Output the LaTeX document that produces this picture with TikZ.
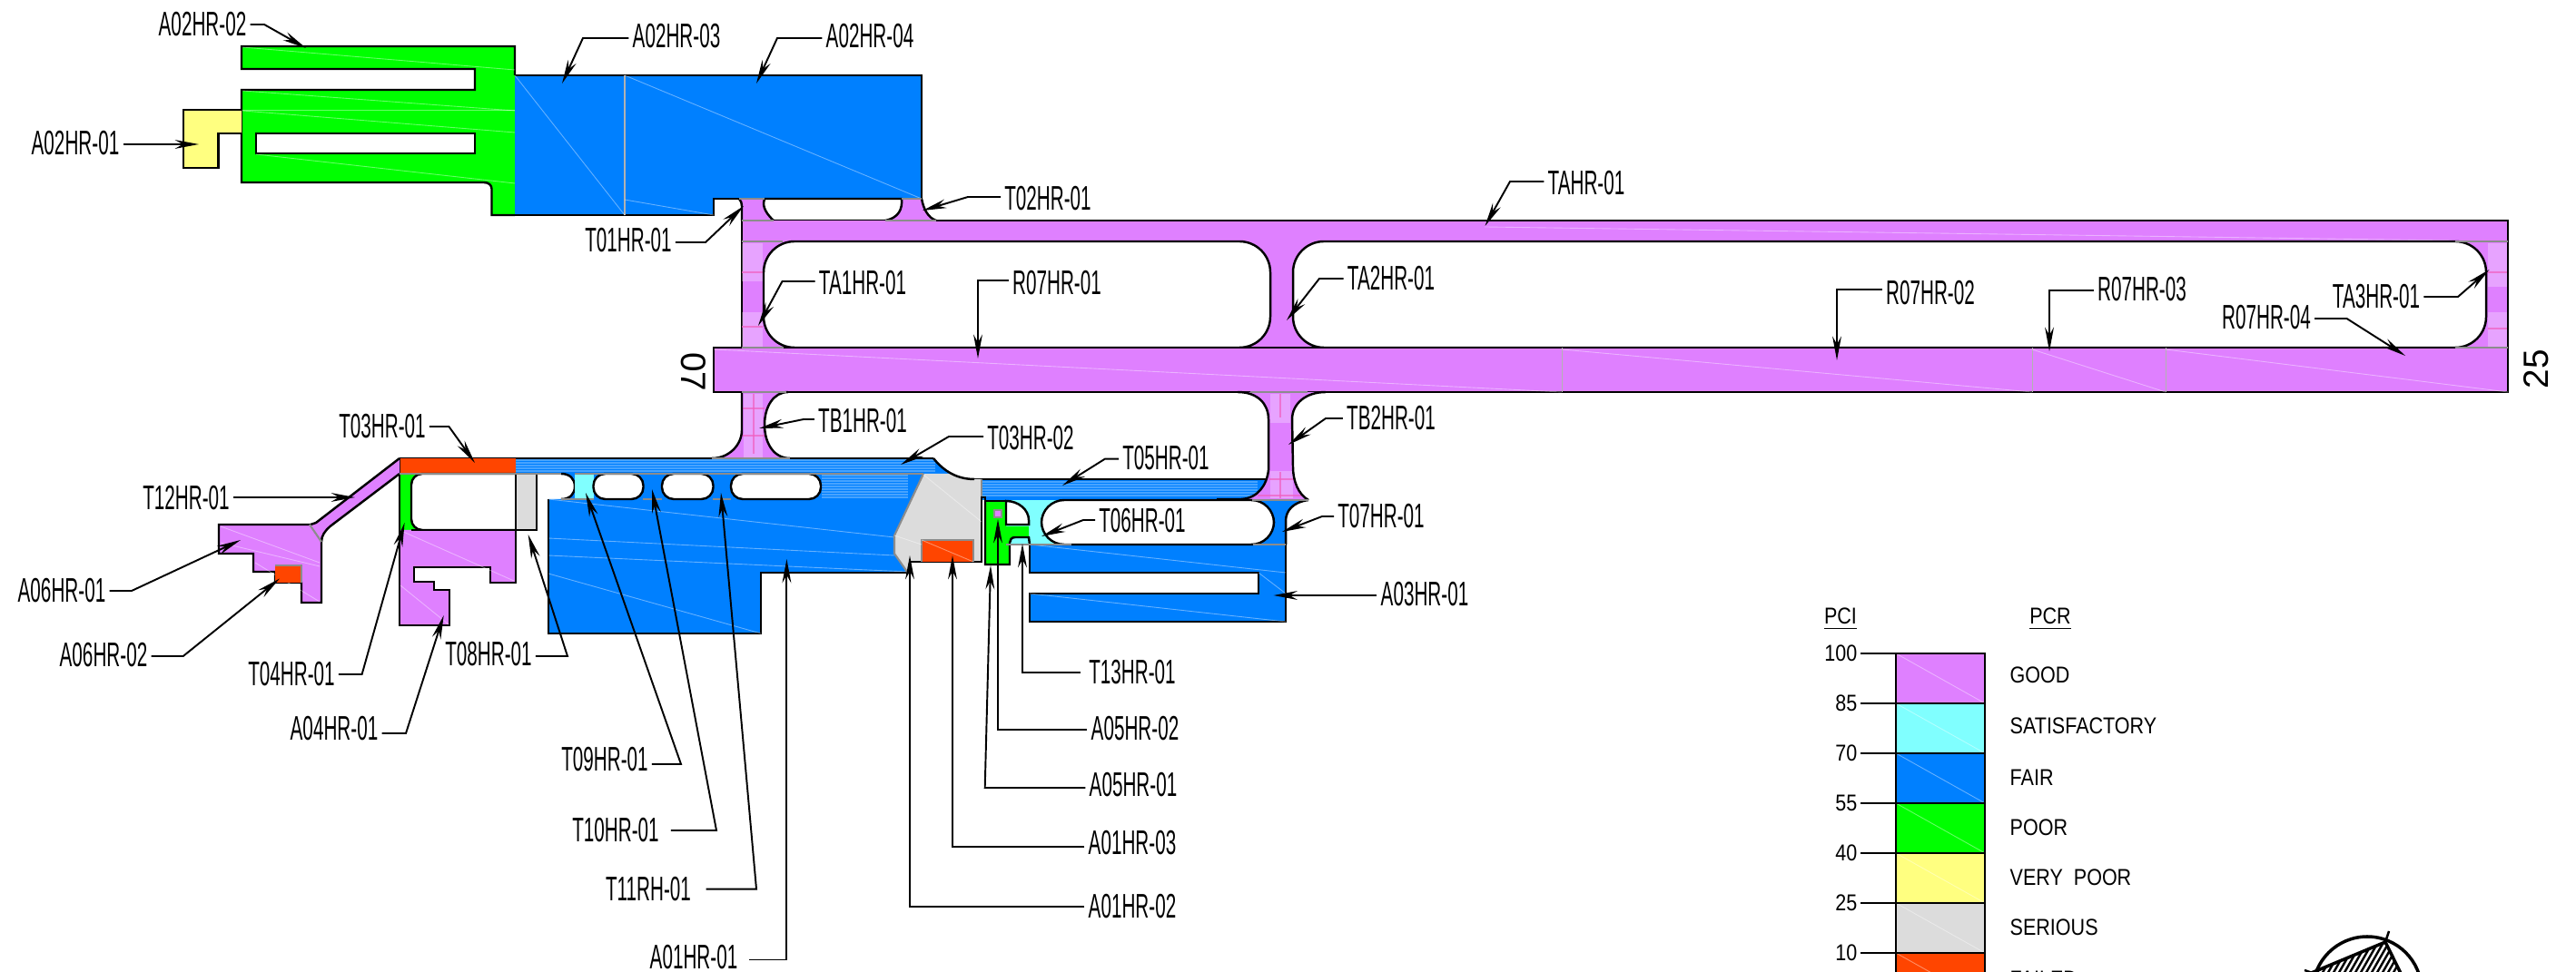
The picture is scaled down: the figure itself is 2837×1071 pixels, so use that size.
\documentclass[tikz,border=0pt]{standalone}
\usepackage{fontspec}
\setmainfont{Liberation Sans}
\newfontfamily\condfont[FakeStretch=0.55]{Liberation Sans}
\newfontfamily\legendfont[FakeStretch=0.85]{Liberation Sans}
\usetikzlibrary{arrows.meta}

\definecolor{pcigood}{HTML}{DF80FF}
\definecolor{pcisat}{HTML}{80FFFF}
\definecolor{pcifair}{HTML}{0080FF}
\definecolor{pcipoor}{HTML}{00FF00}
\definecolor{pcivery}{HTML}{FFFF80}
\definecolor{pciser}{HTML}{DCDCDC}
\definecolor{pcifail}{HTML}{FF4500}
\definecolor{pcigrid}{HTML}{F060C0}

\begin{document}
\begin{tikzpicture}[
	x=0.01cm, y=-0.01cm,
	edge/.style={draw=black, line width=0.7pt},
	joint/.style={draw=black!45, line width=0.6pt},
	slab/.style={draw=black!30, line width=0.3pt},
	seam/.style={draw=white, opacity=0.4, line width=0.25pt},
	streak/.style={draw=white, opacity=0.28, line width=0.3pt},
	grid line/.style={draw=pcigrid, opacity=0.7, line width=0.35pt},
	hole/.style={fill=white, draw=black, line width=0.7pt},
	sect/.style={font=\condfont\fontsize{10.7}{12}\selectfont, inner sep=1pt},
	rwy/.style={font=\fontsize{11}{12}\selectfont, inner sep=0pt},
	pci/.style={font=\legendfont\fontsize{7.2}{9}\selectfont, inner sep=0pt},
	leader/.style={draw=black, line width=0.55pt, -{Stealth[length=7.5pt, width=2.8pt]}}
]
\useasboundingbox (0,0) rectangle (2837,1071);
\clip (0,0) rectangle (2837,1071);

% apron A02
\fill[pcipoor] (266,51) -- (567,51) -- (567,237) -- (541.5,237) -- (541.5,208) .. controls (541.5,204) and (538,201) .. (533,201) -- (266,201) -- (266,99) -- (523,99) -- (523,76) -- (266,76) -- cycle;
\draw[edge] (567,83) -- (567,51) -- (266,51) -- (266,76) -- (523,76) -- (523,99) -- (266,99) -- (266,201) -- (533,201) .. controls (538,201) and (541.5,204) .. (541.5,208) -- (541.5,237) -- (567,237);
\draw[hole] (282,147) rectangle (523,169);
\fill[pcivery] (202,121) -- (266,121) -- (266,147) -- (240.6,147) -- (240.6,185) -- (202,185) -- cycle;
\draw[edge] (266,121) -- (202,121) -- (202,185) -- (240.6,185) -- (240.6,147) -- (266,147);
\fill[pcifair] (567,83) -- (1015,83) -- (1015,219) -- (786,219) -- (786,237) -- (567,237) -- cycle;
\draw[edge] (567,83) -- (1015,83) -- (1015,219) -- (786,219) -- (786,237) -- (567,237);
\draw[slab] (688,83) -- (688,237);
\draw[seam] (267,52) -- (567,77);
\draw[seam] (267,100) -- (567,122);
\draw[seam] (267,121) -- (567,121);
\draw[seam] (267,122) -- (567,146);
\draw[seam] (282,170) -- (567,202);
\draw[seam] (567,83) -- (688,237);
\draw[seam] (688,83) -- (1015,219);
\draw[seam] (688,220) -- (786,237);

% taxiway A and stubs
\fill[pcigood] (814,219) -- (842,219) .. controls (840,224) and (840,232) .. (852,243) -- (817,243) -- (817,227) -- cycle;
\fill[pcigood] (993,219) -- (1015,219) .. controls (1017,230) and (1022,240) .. (1031,243) -- (975,243) .. controls (990,240) and (994,230) .. (993,219) -- cycle;
\draw[edge] (814,219) .. controls (816,221) and (817,224) .. (817,227) -- (817,243);
\draw[edge] (842,219) .. controls (840,224) and (840,232) .. (852,243) -- (975,243) .. controls (990,240) and (994,230) .. (993,219) -- (842,219);
\draw[edge] (1015,219) .. controls (1017,230) and (1022,240) .. (1031,243);
\fill[pcigood] (817,243) rectangle (2762,383);
\draw[edge] (1031,243) -- (2762,243) -- (2762,432);
\draw[edge] (817,243) -- (817,383);
\draw[seam] (1635,250) -- (2700,265);
\foreach \xa/\xb/\ya/\yb in {817/840/268/310, 817/840/345/381, 2740/2761/268/315, 2740/2761/345/381} {
	\foreach \yy in {\ya,...,\yb} {
		\ifodd\yy \draw[streak] (\xa,\yy) -- (\xb,\yy); \fi
	}
}
\draw[grid line] (817,300) -- (840,300);
\draw[grid line] (817,360) -- (840,360);
\draw[grid line] (2740,300) -- (2761,300);
\draw[grid line] (2740,362) -- (2761,362);
\draw[hole, rounded corners=0.34cm] (841,266) rectangle (1399,383);
\draw[hole, rounded corners=0.34cm] (1424,266) rectangle (2738,383);
\fill[pcigood] (786,383) rectangle (2762,432);
\draw[edge] (786,383) rectangle (2762,432);
\draw[slab] (1720,383) -- (1720,432);
\draw[slab] (2238,383) -- (2238,432);
\draw[slab] (2385,383) -- (2385,432);
\draw[seam] (786,385) -- (1720,432);
\draw[seam] (1720,385) -- (2238,432);
\draw[seam] (2238,385) -- (2385,432);
\draw[seam] (2385,385) -- (2762,432);

% taxiway B stubs
\fill[pcigood] (817,432) -- (817,474) .. controls (817,490) and (803,505) .. (784,505) -- (870,505) .. controls (852,505) and (842,488) .. (842,468) .. controls (842,448) and (852,432) .. (868,432) -- cycle;
\foreach \yy in {435,437,...,503} {
	\draw[streak] (819,\yy) -- (840,\yy);
}
\draw[grid line] (830,434) -- (830,500);
\draw[grid line] (817,450) -- (842,450);
\draw[grid line] (817,480) -- (842,480);
\draw[edge] (817,432) -- (817,474) .. controls (817,490) and (803,505) .. (784,505);
\draw[edge] (868,432) .. controls (852,432) and (842,448) .. (842,468) .. controls (842,488) and (852,505) .. (870,505);

% lower pavement
\fill[pcifair] (568,505) -- (1028,505) .. controls (1040,520) and (1055,528) .. (1073,528) -- (1400,528) -- (1400,551) -- (1081,551) -- (1081,619) -- (1003,619) -- (999,631) -- (838,631) -- (838,698) -- (604,698) -- (604,550) -- (618,550) .. controls (628,550) and (633,544) .. (633,536) .. controls (633,528) and (628,522) .. (618,522) -- (568,522) -- cycle;
\foreach \yy in {507,510,...,520} {
	\draw[streak] (568,\yy) -- (1030,\yy);
}
\foreach \yy in {524,527,...,548} {
	\draw[streak] (905,\yy) -- (1000,\yy);
}
\foreach \yy in {531,534,...,548} {
	\draw[streak] (1082,\yy) -- (1385,\yy);
}
\draw[edge] (440,505) -- (784,505);
\draw[edge] (870,505) -- (1028,505);
\draw[edge] (1073,528) -- (1397,528);
\draw[edge] (618,550) .. controls (628,550) and (633,544) .. (633,536) .. controls (633,528) and (628,522) .. (618,522);
\draw[edge] (604,550) -- (604,698) -- (838,698) -- (838,631) -- (999,631);
\draw[seam] (604,550) -- (985,592);
\draw[seam] (604,593) -- (985,612);
\draw[seam] (604,612) -- (1000,630);
\draw[seam] (604,632) -- (838,698);

% taxiway B2 with its flare
\fill[pcigood] (1363,432) .. controls (1385,432) and (1397,445) .. (1397,462) -- (1397,518) .. controls (1395,535) and (1385,549) .. (1367,550) -- (1441,551) .. controls (1430,545) and (1424,530) .. (1424,515) -- (1423,462) .. controls (1423,445) and (1438,432) .. (1460,432) -- cycle;
\foreach \yy in {435,437,...,465} {
	\draw[streak] (1399,\yy) -- (1421,\yy);
}
\foreach \yy in {520,522,...,549} {
	\draw[streak] (1399,\yy) -- (1424,\yy);
}
\draw[grid line] (1410,434) -- (1410,460);
\draw[grid line] (1410,520) -- (1410,549);
\draw[grid line] (1385,546) -- (1436,546);
\draw[grid line] (1398,528) -- (1425,528);
\draw[edge] (1460,432) .. controls (1438,432) and (1423,445) .. (1423,462) -- (1424,515) .. controls (1424,530) and (1430,545) .. (1441,551);
\draw[edge] (1363,432) .. controls (1385,432) and (1397,445) .. (1397,462) -- (1397,518) .. controls (1395,535) and (1385,549) .. (1367,550) -- (1340,550);
\fill[pcifair] (1380,551) -- (1441,551) .. controls (1425,553) and (1416,562) .. (1416,574) -- (1416,600) -- (1380,600) -- cycle;
\draw[edge] (1441,551) .. controls (1425,553) and (1416,562) .. (1416,574) -- (1416,600);

% T06 apron and A03
\fill[pcisat] (1108,551) rectangle (1165,600);
\fill[pcifair] (1134,600) -- (1416,600) -- (1416,685) -- (1134,685) -- (1134,654) -- (1386,654) -- (1386,631) -- (1134,631) -- cycle;
\draw[edge] (1134,600) -- (1134,631) -- (1386,631) -- (1386,654) -- (1134,654) -- (1134,685) -- (1416,685) -- (1416,600);
\draw[seam] (1134,600) -- (1416,631);
\draw[seam] (1134,654) -- (1416,685);
\draw[seam] (1386,631) -- (1416,654);
\draw[hole, rounded corners=0.25cm] (1147,551) rectangle (1403,600);

% gray and red slabs at the A01 end
\fill[pciser] (1017,522) -- (1048,522) .. controls (1056,526) and (1064,528) .. (1073,528) -- (1081,528) -- (1081,619) -- (1003,619) -- (999,630) -- (985,610) -- (985,590) -- cycle;
\draw[joint] (1017,522) -- (985,590) -- (985,610) -- (999,630);
\draw[joint] (1081,528) -- (1081,548);
\draw[edge] (1003,619) -- (1081,619) -- (1081,548) -- (1085,548) -- (1085,552);
\draw[edge] (1028,505) .. controls (1040,520) and (1055,528) .. (1073,528);
\fill[pcifail] (1015,595) rectangle (1072,619);
\draw[joint] (1015,619) -- (1015,595) -- (1072,595) -- (1072,619);
\draw[seam] (1017,523) -- (1081,575);
\draw[seam] (985,590) -- (1015,600);
\draw[seam] (1015,595) -- (1072,619);

% A05 block
\fill[pcipoor] (1085,552) -- (1108,552) -- (1108,580) -- (1133,580) -- (1133,592) -- (1118,592) .. controls (1114,592) and (1112,595) .. (1112,598) -- (1112,622) -- (1085,622) -- cycle;
\draw[edge] (1085,552) -- (1108,552);
\draw[edge] (1085,552) -- (1085,622) -- (1112,622) -- (1112,598) .. controls (1112,595) and (1114,592) .. (1118,592) -- (1133,592) -- (1134,600);
\fill[white] (1108,552) .. controls (1122,552) and (1133,562) .. (1133,573) -- (1133,578) -- (1108,578) -- cycle;
\draw[edge] (1108,552) .. controls (1122,552) and (1133,562) .. (1133,573) -- (1133,578) -- (1108,578) -- cycle;
\fill[pcigood] (1095,562) rectangle (1103,570);
\draw[joint, line width=0.35pt] (1095,562) rectangle (1103,570);

% holes in taxiway T09 to T11
\fill[pcisat] (633,522) rectangle (654,550);
\draw[hole, rounded corners=0.13cm] (653.5,522) rectangle (708.5,550);
\draw[hole, rounded corners=0.13cm] (729,522) rectangle (785.5,550);
\draw[hole, rounded corners=0.13cm] (805,522) rectangle (904,550);

% A04 with T03, T04 and T08
\fill[pcifail] (440,505) rectangle (568,522);
\fill[pcipoor] (440,522) rectangle (470,584);
\draw[hole, rounded corners=0.12cm] (568,522) -- (453,522) -- (453,584) -- (568,584);
\fill[pciser] (568,522) rectangle (591,584);
\draw[edge] (568,584) -- (591,584) -- (591,522);
\draw[edge] (568,522) -- (568,584);
\fill[pcigood] (440,584) -- (568,584) -- (568,642) -- (540,642) -- (540,625) -- (456,625) -- (456,641) -- (478,641) -- (478,650) -- (495,650) -- (495,689) -- (440,689) -- cycle;
\draw[edge] (453,584) -- (568,584) -- (568,642) -- (540,642) -- (540,625) -- (456,625) -- (456,641) -- (478,641) -- (478,650) -- (495,650) -- (495,689) -- (440,689) -- (440,505);
\draw[seam] (442,585) -- (566,640);
\draw[seam] (441,645) -- (494,688);

% A06 and T12
\fill[pcigood] (440,505) -- (348,576) -- (342,578) -- (241,578) -- (241,610) -- (279,610) -- (279,630) -- (303,630) -- (303,642) -- (332,642) -- (332,664) -- (354,664) -- (354,597) .. controls (354,590) and (358,585) .. (363.5,580) -- (440,522) -- cycle;
\draw[edge] (440,505) -- (348,576) -- (342,578) -- (241,578) -- (241,610) -- (279,610) -- (279,630) -- (303,630) -- (303,642) -- (332,642) -- (332,664) -- (354,664) -- (354,597) .. controls (354,590) and (358,585) .. (363.5,580) -- (440,522);
\draw[seam] (243,580) -- (352,620);
\draw[seam] (243,598) -- (352,624);
\draw[seam] (281,620) -- (352,663);
\fill[pcifail] (303,623) rectangle (332,642);
\draw[joint] (303,623) -- (332,623) -- (332,642);
\draw[joint] (341,578) -- (354,597);

% joints
\draw[joint] (814,219) -- (842,219);
\draw[joint] (993,219) -- (1015,219);
\draw[joint] (817,243) -- (852,243);
\draw[joint] (975,243) -- (1031,243);
\draw[joint] (817,266) -- (862,266);
\draw[joint] (2704,266) -- (2762,266);
\draw[joint] (817,383) -- (863,383);
\draw[joint] (2704,383) -- (2762,383);
\draw[joint] (817,432) -- (866,432);
\draw[joint] (1377,432) -- (1440,432);
\draw[joint] (784,505) -- (870,505);
\draw[joint] (440,522) -- (618,522);
\draw[joint] (633,522) -- (1017,522);
\draw[joint] (618,550) -- (654,550);
\draw[joint] (708,550) -- (729,550);
\draw[joint] (785,550) -- (805,550);
\draw[joint] (1379,551) -- (1441,551);
\draw[joint] (1108,600) -- (1180,600);
\draw[joint] (1380,600) -- (1416,600);

% runway numbers
\node[rwy, rotate=-90] (nodeRwyA) at (764,410) {07};
\node[rwy, rotate=90] (nodeRwyB) at (2793,407) {25};

% section labels
\coordinate (bendA02HR02) at (291,27); \coordinate (tipA02HR02) at (337,53);
\node[sect] (nodeA02HR02) at (223,27) {A02HR-02};
\draw[leader] (nodeA02HR02.east |- bendA02HR02) -- (bendA02HR02) -- (tipA02HR02);
\coordinate (bendA02HR03) at (642,42); \coordinate (tipA02HR03) at (619,92);
\node[sect] (nodeA02HR03) at (745,40) {A02HR-03};
\draw[leader] (nodeA02HR03.west |- bendA02HR03) -- (bendA02HR03) -- (tipA02HR03);
\coordinate (bendA02HR04) at (856,42); \coordinate (tipA02HR04) at (833,92);
\node[sect] (nodeA02HR04) at (958,40) {A02HR-04};
\draw[leader] (nodeA02HR04.west |- bendA02HR04) -- (bendA02HR04) -- (tipA02HR04);
\coordinate (tipA02HR01) at (219,159);
\node[sect] (nodeA02HR01) at (83,158) {A02HR-01};
\draw[leader] (nodeA02HR01.east |- tipA02HR01) -- (tipA02HR01);
\coordinate (bendT01HR01) at (777,267); \coordinate (tipT01HR01) at (819,227);
\node[sect] (nodeT01HR01) at (692,265) {T01HR-01};
\draw[leader] (nodeT01HR01.east |- bendT01HR01) -- (bendT01HR01) -- (tipT01HR01);
\coordinate (bendT02HR01) at (1066,217); \coordinate (tipT02HR01) at (1016,232);
\node[sect] (nodeT02HR01) at (1154,219) {T02HR-01};
\draw[leader] (nodeT02HR01.west |- bendT02HR01) -- (bendT02HR01) -- (tipT02HR01);
\coordinate (bendTAHR01) at (1663,200); \coordinate (tipTAHR01) at (1635.5,249);
\node[sect] (nodeTAHR01) at (1747,202) {TAHR-01};
\draw[leader] (nodeTAHR01.west |- bendTAHR01) -- (bendTAHR01) -- (tipTAHR01);
\coordinate (bendTA1HR01) at (861.5,310); \coordinate (tipTA1HR01) at (835,359);
\node[sect] (nodeTA1HR01) at (950,312) {TA1HR-01};
\draw[leader] (nodeTA1HR01.west |- bendTA1HR01) -- (bendTA1HR01) -- (tipTA1HR01);
\coordinate (bendR07HR01) at (1077,309); \coordinate (tipR07HR01) at (1077,395);
\node[sect] (nodeR07HR01) at (1164,312) {R07HR-01};
\draw[leader] (nodeR07HR01.west |- bendR07HR01) -- (bendR07HR01) -- (tipR07HR01);
\coordinate (bendTA2HR01) at (1453,307); \coordinate (tipTA2HR01) at (1417,353);
\node[sect] (nodeTA2HR01) at (1532,307) {TA2HR-01};
\draw[leader] (nodeTA2HR01.west |- bendTA2HR01) -- (bendTA2HR01) -- (tipTA2HR01);
\coordinate (bendR07HR02) at (2023,319); \coordinate (tipR07HR02) at (2023,397);
\node[sect] (nodeR07HR02) at (2126,323) {R07HR-02};
\draw[leader] (nodeR07HR02.west |- bendR07HR02) -- (bendR07HR02) -- (tipR07HR02);
\coordinate (bendR07HR03) at (2257,320); \coordinate (tipR07HR03) at (2257,387);
\node[sect] (nodeR07HR03) at (2359,319) {R07HR-03};
\draw[leader] (nodeR07HR03.west |- bendR07HR03) -- (bendR07HR03) -- (tipR07HR03);
\coordinate (bendR07HR04) at (2584.5,351); \coordinate (tipR07HR04) at (2649,392);
\node[sect] (nodeR07HR04) at (2496,350) {R07HR-04};
\draw[leader] (nodeR07HR04.east |- bendR07HR04) -- (bendR07HR04) -- (tipR07HR04);
\coordinate (bendTA3HR01) at (2707,327); \coordinate (tipTA3HR01) at (2741.5,297);
\node[sect] (nodeTA3HR01) at (2617,327) {TA3HR-01};
\draw[leader] (nodeTA3HR01.east |- bendTA3HR01) -- (bendTA3HR01) -- (tipTA3HR01);
\coordinate (bendTB1HR01) at (885,462); \coordinate (tipTB1HR01) at (836,472);
\node[sect] (nodeTB1HR01) at (950,464) {TB1HR-01};
\draw[leader] (nodeTB1HR01.west |- bendTB1HR01) -- (bendTB1HR01) -- (tipTB1HR01);
\coordinate (bendTB2HR01) at (1460,461); \coordinate (tipTB2HR01) at (1419,490);
\node[sect] (nodeTB2HR01) at (1532,461) {TB2HR-01};
\draw[leader] (nodeTB2HR01.west |- bendTB2HR01) -- (bendTB2HR01) -- (tipTB2HR01);
\coordinate (bendT03HR02) at (1045,481); \coordinate (tipT03HR02) at (992,512);
\node[sect] (nodeT03HR02) at (1135,483) {T03HR-02};
\draw[leader] (nodeT03HR02.west |- bendT03HR02) -- (bendT03HR02) -- (tipT03HR02);
\coordinate (bendT05HR01) at (1217,505.6); \coordinate (tipT05HR01) at (1170,535);
\node[sect] (nodeT05HR01) at (1284,504.5) {T05HR-01};
\draw[leader] (nodeT05HR01.west |- bendT05HR01) -- (bendT05HR01) -- (tipT05HR01);
\coordinate (bendT06HR01) at (1193,573); \coordinate (tipT06HR01) at (1147,591);
\node[sect] (nodeT06HR01) at (1258,574) {T06HR-01};
\draw[leader] (nodeT06HR01.west |- bendT06HR01) -- (bendT06HR01) -- (tipT06HR01);
\coordinate (bendT07HR01) at (1456,569); \coordinate (tipT07HR01) at (1412,586);
\node[sect] (nodeT07HR01) at (1521,569) {T07HR-01};
\draw[leader] (nodeT07HR01.west |- bendT07HR01) -- (bendT07HR01) -- (tipT07HR01);
\coordinate (tipA03HR01) at (1402.5,656);
\node[sect] (nodeA03HR01) at (1569,655) {A03HR-01};
\draw[leader] (nodeA03HR01.west |- tipA03HR01) -- (tipA03HR01);
\coordinate (bendT13HR01) at (1126,741); \coordinate (tipT13HR01) at (1126,599);
\node[sect] (nodeT13HR01) at (1247,741) {T13HR-01};
\draw[leader, shorten <=1.5pt] (nodeT13HR01.west |- bendT13HR01) -- (bendT13HR01) -- (tipT13HR01);
\coordinate (bendA05HR02) at (1099,804); \coordinate (tipA05HR02) at (1099,572);
\node[sect] (nodeA05HR02) at (1250,803) {A05HR-02};
\draw[leader] (nodeA05HR02.west |- bendA05HR02) -- (bendA05HR02) -- (tipA05HR02);
\coordinate (bendA05HR01) at (1084.7,868); \coordinate (tipA05HR01) at (1091,623);
\node[sect] (nodeA05HR01) at (1248,865) {A05HR-01};
\draw[leader] (nodeA05HR01.west |- bendA05HR01) -- (bendA05HR01) -- (tipA05HR01);
\coordinate (bendA01HR03) at (1049,933); \coordinate (tipA01HR03) at (1049,612);
\node[sect] (nodeA01HR03) at (1247,929) {A01HR-03};
\draw[leader] (nodeA01HR03.west |- bendA01HR03) -- (bendA01HR03) -- (tipA01HR03);
\coordinate (bendA01HR02) at (1002,999); \coordinate (tipA01HR02) at (1002,612);
\node[sect] (nodeA01HR02) at (1247,999) {A01HR-02};
\draw[leader] (nodeA01HR02.west |- bendA01HR02) -- (bendA01HR02) -- (tipA01HR02);
\coordinate (bendT03HR01) at (494.4,470); \coordinate (tipT03HR01) at (523,510);
\node[sect] (nodeT03HR01) at (421,470) {T03HR-01};
\draw[leader] (nodeT03HR01.east |- bendT03HR01) -- (bendT03HR01) -- (tipT03HR01);
\coordinate (tipT12HR01) at (391,548);
\node[sect] (nodeT12HR01) at (205,549) {T12HR-01};
\draw[leader] (nodeT12HR01.east |- tipT12HR01) -- (tipT12HR01);
\coordinate (bendA06HR01) at (145,651); \coordinate (tipA06HR01) at (265,595);
\node[sect] (nodeA06HR01) at (68,651) {A06HR-01};
\draw[leader] (nodeA06HR01.east |- bendA06HR01) -- (bendA06HR01) -- (tipA06HR01);
\coordinate (bendA06HR02) at (201.7,723); \coordinate (tipA06HR02) at (308,637.5);
\node[sect] (nodeA06HR02) at (114,722) {A06HR-02};
\draw[leader] (nodeA06HR02.east |- bendA06HR02) -- (bendA06HR02) -- (tipA06HR02);
\coordinate (bendT04HR01) at (398.6,743); \coordinate (tipT04HR01) at (445.6,576);
\node[sect] (nodeT04HR01) at (321,743) {T04HR-01};
\draw[leader] (nodeT04HR01.east |- bendT04HR01) -- (bendT04HR01) -- (tipT04HR01);
\coordinate (bendA04HR01) at (447,808); \coordinate (tipA04HR01) at (488.7,678);
\node[sect] (nodeA04HR01) at (368,803) {A04HR-01};
\draw[leader] (nodeA04HR01.east |- bendA04HR01) -- (bendA04HR01) -- (tipA04HR01);
\coordinate (bendT08HR01) at (625,723); \coordinate (tipT08HR01) at (581.7,589);
\node[sect] (nodeT08HR01) at (538,721) {T08HR-01};
\draw[leader] (nodeT08HR01.east |- bendT08HR01) -- (bendT08HR01) -- (tipT08HR01);
\coordinate (bendT09HR01) at (750,842); \coordinate (tipT09HR01) at (645,543);
\node[sect] (nodeT09HR01) at (666,837) {T09HR-01};
\draw[leader] (nodeT09HR01.east |- bendT09HR01) -- (bendT09HR01) -- (tipT09HR01);
\coordinate (bendT10HR01) at (789,915); \coordinate (tipT10HR01) at (718,539);
\node[sect] (nodeT10HR01) at (678,915) {T10HR-01};
\draw[leader, shorten <=2.5pt] (nodeT10HR01.east |- bendT10HR01) -- (bendT10HR01) -- (tipT10HR01);
\coordinate (bendT11RH01) at (833,979.6); \coordinate (tipT11RH01) at (794,543);
\node[sect] (nodeT11RH01) at (714,980) {T11RH-01};
\draw[leader, shorten <=3.5pt] (nodeT11RH01.east |- bendT11RH01) -- (bendT11RH01) -- (tipT11RH01);
\coordinate (bendA01HR01) at (866.4,1057.5); \coordinate (tipA01HR01) at (866.4,616);
\node[sect] (nodeA01HR01) at (764,1055) {A01HR-01};
\draw[leader, shorten <=2.5pt] (nodeA01HR01.east |- bendA01HR01) -- (bendA01HR01) -- (tipA01HR01);

% legend
\node[pci] (nodePCI) at (2027,682) {\underline{PCI}};
\node[pci] (nodePCR) at (2258,682) {\underline{PCR}};
\foreach \yy/\col in {720/pcigood,775/pcisat,830/pcifair,885/pcipoor,940/pcivery,995/pciser,1050/pcifail} {
	\fill[\col] (2088,\yy) rectangle (2186,\yy+55);
	\draw[seam] (2088,\yy) -- (2186,\yy+55);
}
\draw[edge] (2088,720) rectangle (2186,1105);
\foreach \yy/\val in {720/100,775/85,830/70,885/55,940/40,995/25,1050/10} {
	\node[pci, anchor=east] (nodeTick\val) at (2046,\yy) {\val};
	\draw[edge] (nodeTick\val.east) ++(3,0) -- (2186,\yy);
}
\node[pci, anchor=west] (nodeGood) at (2213,744) {GOOD};
\node[pci, anchor=west] (nodeSat) at (2213,800) {SATISFACTORY};
\node[pci, anchor=west] (nodeFair) at (2213,857) {FAIR};
\node[pci, anchor=west] (nodePoor) at (2213,912) {POOR};
\node[pci, anchor=west] (nodeVery) at (2213,967) {VERY\ \ POOR};
\node[pci, anchor=west] (nodeSer) at (2213,1022) {SERIOUS};
\node[pci, anchor=west] (nodeFail) at (2213,1079) {FAILED};

% north arrow
\begin{scope}
	\clip (2627,1038) -- (2476,1101) -- (2658,1101) -- cycle;
	\foreach \h in {2440,2446,...,2700} {
		\draw[line width=0.7pt] (\h,1110) -- (\h+48,1026);
	}
\end{scope}
\draw[line width=1pt] (2607,1092) circle (60);
\draw[line width=1pt] (2627,1038) -- (2476,1101);
\draw[line width=1pt] (2627,1038) -- (2658,1101);
\draw[line width=0.7pt] (2631,1026) -- (2627,1038);
\draw[line width=0.7pt] (2538,1069) -- (2552,1074);
\end{tikzpicture}
\end{document}
